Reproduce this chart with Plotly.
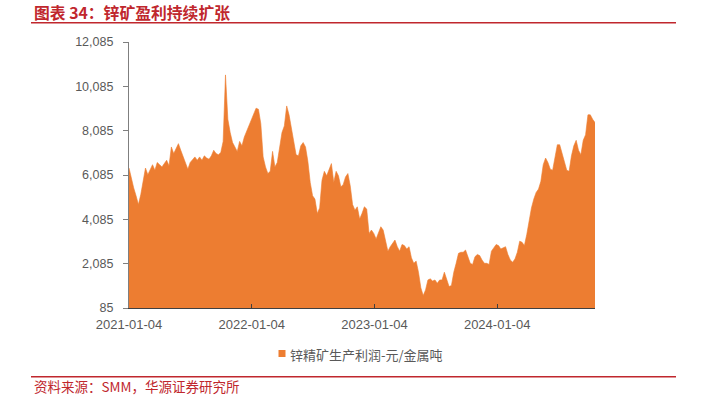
import pandas as pd
import plotly.graph_objects as go

# ---- data (weekly readings of the chart) ----
start_date = "2021-01-04"
n_points = 199
profit = [
    6400, 5900, 5500, 5150, 4750, 5200, 5850, 6400, 6100, 6350,
    6550, 6300, 6650, 6550, 6450, 6600, 6750, 6500, 7350, 7050,
    7250, 7500, 7200, 6900, 6650, 6350, 6650, 6800, 6900, 6750,
    6900, 6750, 6950, 6850, 6800, 6950, 7200, 7050, 7000, 7100,
    7600, 10600,
    8600, 8000, 7550, 7350, 7150, 7600, 7400, 7800, 8050, 8350,
    8550, 8850, 9100, 9050, 8400, 6900, 6450, 6150, 6250, 7150,
    6450, 6650, 7300, 8000, 8300, 9200, 8800, 8200, 7500, 7000,
    6950, 7400, 7550, 7350, 6700, 5750, 5150, 5000, 4350, 4600,
    5850, 6250, 6050, 6300, 6600, 5750, 6250, 6050, 5550, 5650,
    6000, 6150, 5600, 4750, 4500, 4650, 4100, 4350, 4650, 4550,
    3450, 3600, 3450, 3200, 3450, 3750, 3600, 3100, 2650, 2850,
    3000, 3150, 2850, 2650, 2950, 2900, 2750, 2850, 2350, 2100,
    2200, 1700, 1000, 650, 900, 1350, 1400, 1300, 1350, 1200,
    1350, 1350, 1700, 1400, 1050, 1100, 1700, 2100, 2550, 2600,
    2600, 2700, 2400, 2100, 2050, 2400, 2500, 2450, 2250, 2100,
    2100, 2050, 2650, 2800, 2950, 2900, 2750, 2800, 2850, 2500,
    2250,
    2150, 2300, 2600, 3100, 3050, 2900, 3400, 4000, 4600, 5000,
    5300, 5450, 5800, 6550, 6850, 6650, 6350, 6300, 6850, 7450,
    7450, 7050, 6600, 6300, 6250, 6950, 7400, 7650, 7200, 7000,
    7650, 7900, 8800, 8800, 8600, 8450,
]
dates = pd.date_range(start_date, periods=n_points, freq="7D")

x_ticks = ["2021-01-04", "2022-01-04", "2023-01-04", "2024-01-04"]
y_ticks = [85, 2085, 4085, 6085, 8085, 10085, 12085]

series_name = "锌精矿生产利润-元/金属吨"
title_text = "图表 34：锌矿盈利持续扩张"
source_text = "资料来源：SMM，华源证券研究所"

ORANGE = "#ED7D31"
RED = "#C0272D"
GRAY = "#595959"

W, H = 704, 398
L, R, T, B = 129, 109, 42, 90
pw, ph = W - L - R, H - T - B


def px(x):
    return (x - L) / pw


def py(y):
    return (H - B - y) / ph


fig = go.Figure()
fig.add_trace(go.Scatter(
    x=dates, y=profit, mode="lines", fill="tozeroy",
    fillcolor=ORANGE, line=dict(color=ORANGE, width=0.6),
    name=series_name, showlegend=False, hoverinfo="x+y",
))

fig.update_layout(
    width=W, height=H,
    margin=dict(l=L, r=R, t=T, b=B, pad=0),
    paper_bgcolor="white", plot_bgcolor="white",
    font=dict(family="Liberation Sans, Arial, sans-serif", color=GRAY),
    showlegend=False,
)

fig.update_xaxes(
    type="date",
    range=[dates[0], dates[-1]],
    tickmode="array",
    tickvals=x_ticks,
    ticktext=x_ticks,
    ticks="inside", ticklen=4, tickcolor="#404040", tickwidth=1,
    showline=True, linecolor="#404040", linewidth=1.2,
    showgrid=False, zeroline=False,
    tickfont=dict(size=13, color=GRAY, family="Liberation Sans, Arial"),
    ticklabelstandoff=4,
)
fig.update_yaxes(
    range=[85, 12085],
    tickmode="array",
    tickvals=y_ticks,
    tickformat=",d",
    ticks="outside", ticklen=5, tickcolor="#7F7F7F", tickwidth=1,
    showline=True, linecolor="#7F7F7F", linewidth=1.2,
    showgrid=False, zeroline=False,
    tickfont=dict(size=12.5, color=GRAY, family="Liberation Sans, Arial"),
    ticklabelstandoff=7,
)

cjk = "Noto Sans CJK SC"
shapes = [
    # title underline
    dict(type="line", xref="paper", yref="paper",
         x0=px(31), x1=px(676), y0=py(22.7), y1=py(22.7),
         line=dict(color=RED, width=1.5)),
    # footer line
    dict(type="line", xref="paper", yref="paper",
         x0=px(31), x1=px(676), y0=py(376.7), y1=py(376.7),
         line=dict(color=RED, width=1.5)),
    # legend swatch
    dict(type="rect", xref="paper", yref="paper",
         x0=px(278.5), x1=px(285.5), y0=py(350), y1=py(357),
         fillcolor=ORANGE, line=dict(width=0)),
]
annotations = [
    dict(text=f"<b>{title_text}</b>", xref="paper", yref="paper",
         x=px(32), y=py(12.5), xanchor="left", yanchor="middle",
         showarrow=False, font=dict(family=cjk, size=15.8, color=RED)),
    dict(text=source_text, xref="paper", yref="paper",
         x=px(32), y=py(386), xanchor="left", yanchor="middle",
         showarrow=False, font=dict(family=cjk, size=13.5, color=RED)),
    dict(text=series_name, xref="paper", yref="paper",
         x=px(288), y=py(354), xanchor="left", yanchor="middle",
         showarrow=False, font=dict(family=cjk, size=13, color=GRAY)),
]
fig.update_layout(shapes=shapes, annotations=annotations)

fig.write_html(
    "out.html",
    config={"displayModeBar": False},
    post_script="document.body.style.margin='0px';document.body.style.overflow='hidden';",
)
